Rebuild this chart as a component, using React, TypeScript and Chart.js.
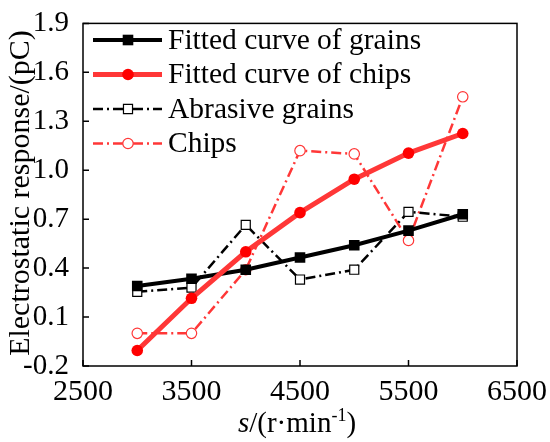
import { useEffect, useRef } from "react"
import { Chart, registerables } from "chart.js"

Chart.register(...registerables)

// rotational speed, r/min
const speeds = [3000, 3500, 4000, 4500, 5000, 5500, 6000]

// electrostatic response, pC
const fittedGrains = [0.29, 0.335, 0.39, 0.465, 0.54, 0.63, 0.73]
const fittedChips = [-0.105, 0.215, 0.5, 0.74, 0.945, 1.105, 1.225]
const abrasiveGrains = [0.255, 0.28, 0.665, 0.33, 0.39, 0.745, 0.715]
const chips = [0.0, 0.0, 0.39, 1.12, 1.1, 0.57, 1.45]

const seriesNames = [
  "Fitted curve of grains",
  "Fitted curve of chips",
  "Abrasive grains",
  "Chips",
]

const xTicks = [2500, 3500, 4500, 5500, 6500]
const yTicks = [-0.2, 0.1, 0.4, 0.7, 1.0, 1.3, 1.6, 1.9]

const SERIF = "'Liberation Serif', 'Times New Roman', serif"
const RED = "rgb(255, 55, 55)"
const DASH_DOT = [10, 4, 2, 4]

const toPoints = (ys: number[]) => speeds.map((x, i) => ({ x, y: ys[i] }))

function drawMarker(ctx: CanvasRenderingContext2D, ds: any, x: number, y: number) {
  const r = ds.pointRadius
  ctx.save()
  ctx.setLineDash([])
  ctx.fillStyle = ds.pointBackgroundColor
  ctx.strokeStyle = ds.pointBorderColor
  ctx.lineWidth = ds.pointBorderWidth
  ctx.beginPath()
  if (ds.pointStyle === "rect") {
    const s = Math.SQRT1_2 * r
    ctx.rect(x - s, y - s, 2 * s, 2 * s)
  } else {
    ctx.arc(x, y, r, 0, Math.PI * 2)
  }
  ctx.fill()
  if (ds.pointBorderWidth > 0) ctx.stroke()
  ctx.restore()
}

const decorations = {
  id: "decorations",
  afterDraw(chart: any) {
    const { ctx, chartArea, scales } = chart
    const { left, top, right, bottom } = chartArea
    ctx.save()

    // frame
    ctx.strokeStyle = "#000"
    ctx.lineWidth = 1.5
    ctx.setLineDash([])
    ctx.strokeRect(left, top, right - left, bottom - top)

    // inward ticks
    ctx.beginPath()
    xTicks.forEach((v) => {
      const px = scales.x.getPixelForValue(v)
      ctx.moveTo(px, bottom)
      ctx.lineTo(px, bottom - 6)
    })
    yTicks.forEach((v) => {
      const py = scales.y.getPixelForValue(v)
      ctx.moveTo(left, py)
      ctx.lineTo(left + 6, py)
    })
    ctx.stroke()

    // legend inside plot area
    ctx.font = `29.5px ${SERIF}`
    ctx.textBaseline = "middle"
    ctx.textAlign = "left"
    chart.data.datasets.forEach((ds: any, i: number) => {
      const y = 40 + i * 34.5
      ctx.save()
      ctx.strokeStyle = ds.borderColor
      ctx.lineWidth = ds.borderWidth
      ctx.setLineDash(ds.borderDash || [])
      ctx.beginPath()
      ctx.moveTo(93, y)
      ctx.lineTo(162, y)
      ctx.stroke()
      ctx.restore()
      drawMarker(ctx, ds, 128, y)
      ctx.fillStyle = "#000"
      ctx.fillText(ds.label, 168, y + 1)
    })

    // y axis title
    ctx.save()
    ctx.translate(21, 193)
    ctx.rotate(-Math.PI / 2)
    ctx.font = `30px ${SERIF}`
    ctx.textAlign = "center"
    ctx.textBaseline = "middle"
    ctx.fillStyle = "#000"
    ctx.fillText("Electrostatic response/(pC)", 0, 0)
    ctx.restore()

    // x axis title: s/(r·min^-1)
    const parts = [
      { t: "s", f: `italic 29px ${SERIF}`, dy: 0 },
      { t: "/(r·min", f: `29px ${SERIF}`, dy: 0 },
      { t: "-1", f: `18px ${SERIF}`, dy: -11 },
      { t: ")", f: `29px ${SERIF}`, dy: 0 },
    ]
    const widths = parts.map((p) => {
      ctx.font = p.f
      return ctx.measureText(p.t).width
    })
    const total = widths.reduce((a, b) => a + b, 0)
    let cx = 297 - total / 2
    ctx.textAlign = "left"
    ctx.textBaseline = "alphabetic"
    ctx.fillStyle = "#000"
    parts.forEach((p, i) => {
      ctx.font = p.f
      ctx.fillText(p.t, cx, 432 + p.dy)
      cx += widths[i]
    })

    ctx.restore()
  },
}

export default function App() {
  const chartRef = useRef<HTMLCanvasElement>(null)
  const chartInstance = useRef<Chart | null>(null)

  useEffect(() => {
    document.body.style.margin = "0"
    if (!chartRef.current) return
    const ctx = chartRef.current.getContext("2d")
    if (!ctx) return
    if (chartInstance.current) chartInstance.current.destroy()

    chartInstance.current = new Chart(ctx, {
      type: "line",
      data: {
        datasets: [
          {
            label: seriesNames[0],
            data: toPoints(fittedGrains),
            borderColor: "#000",
            borderWidth: 4,
            pointStyle: "rect",
            pointRadius: 7.5,
            pointBackgroundColor: "#000",
            pointBorderColor: "#000",
            pointBorderWidth: 0,
            order: 1,
          },
          {
            label: seriesNames[1],
            data: toPoints(fittedChips),
            borderColor: RED,
            borderWidth: 5,
            pointStyle: "circle",
            pointRadius: 5.8,
            pointBackgroundColor: "#ff0000",
            pointBorderColor: "#ff0000",
            pointBorderWidth: 0,
            order: 0,
          },
          {
            label: seriesNames[2],
            data: toPoints(abrasiveGrains),
            borderColor: "#000",
            borderWidth: 2.5,
            borderDash: DASH_DOT,
            pointStyle: "rect",
            pointRadius: 6.4,
            pointBackgroundColor: "#fff",
            pointBorderColor: "#000",
            pointBorderWidth: 1.2,
            order: 2,
          },
          {
            label: seriesNames[3],
            data: toPoints(chips),
            borderColor: RED,
            borderWidth: 2.5,
            borderDash: DASH_DOT,
            pointStyle: "circle",
            pointRadius: 5.2,
            pointBackgroundColor: "#fff",
            pointBorderColor: RED,
            pointBorderWidth: 1.2,
            order: 3,
          },
        ],
      },
      options: {
        responsive: true,
        maintainAspectRatio: false,
        animation: false,
        layout: { padding: { top: 18, right: 33, left: 0, bottom: 0 } },
        plugins: {
          legend: { display: false },
          tooltip: { enabled: false },
        },
        scales: {
          x: {
            type: "linear",
            min: 2500,
            max: 6500,
            afterBuildTicks: (scale: any) => {
              scale.ticks = xTicks.map((value) => ({ value }))
            },
            afterFit: (scale: any) => {
              scale.height = 76
            },
            grid: { display: false },
            border: { display: false },
            ticks: {
              padding: 0,
              color: "#000",
              font: { family: SERIF, size: 30 },
              callback: (v: any) => String(v),
            },
          },
          y: {
            type: "linear",
            min: -0.2,
            max: 1.9,
            afterBuildTicks: (scale: any) => {
              scale.ticks = yTicks.map((value) => ({ value }))
            },
            afterFit: (scale: any) => {
              scale.width = 83
            },
            grid: { display: false },
            border: { display: false },
            ticks: {
              padding: 6,
              color: "#000",
              font: { family: SERIF, size: 29 },
              callback: (v: any) => Number(v).toFixed(1),
            },
          },
        },
      },
      plugins: [decorations],
    })

    return () => {
      if (chartInstance.current) {
        chartInstance.current.destroy()
        chartInstance.current = null
      }
    }
  }, [])

  return (
    <div style={{ width: 550, height: 442, background: "#fff" }}>
      <canvas ref={chartRef} />
    </div>
  )
}
